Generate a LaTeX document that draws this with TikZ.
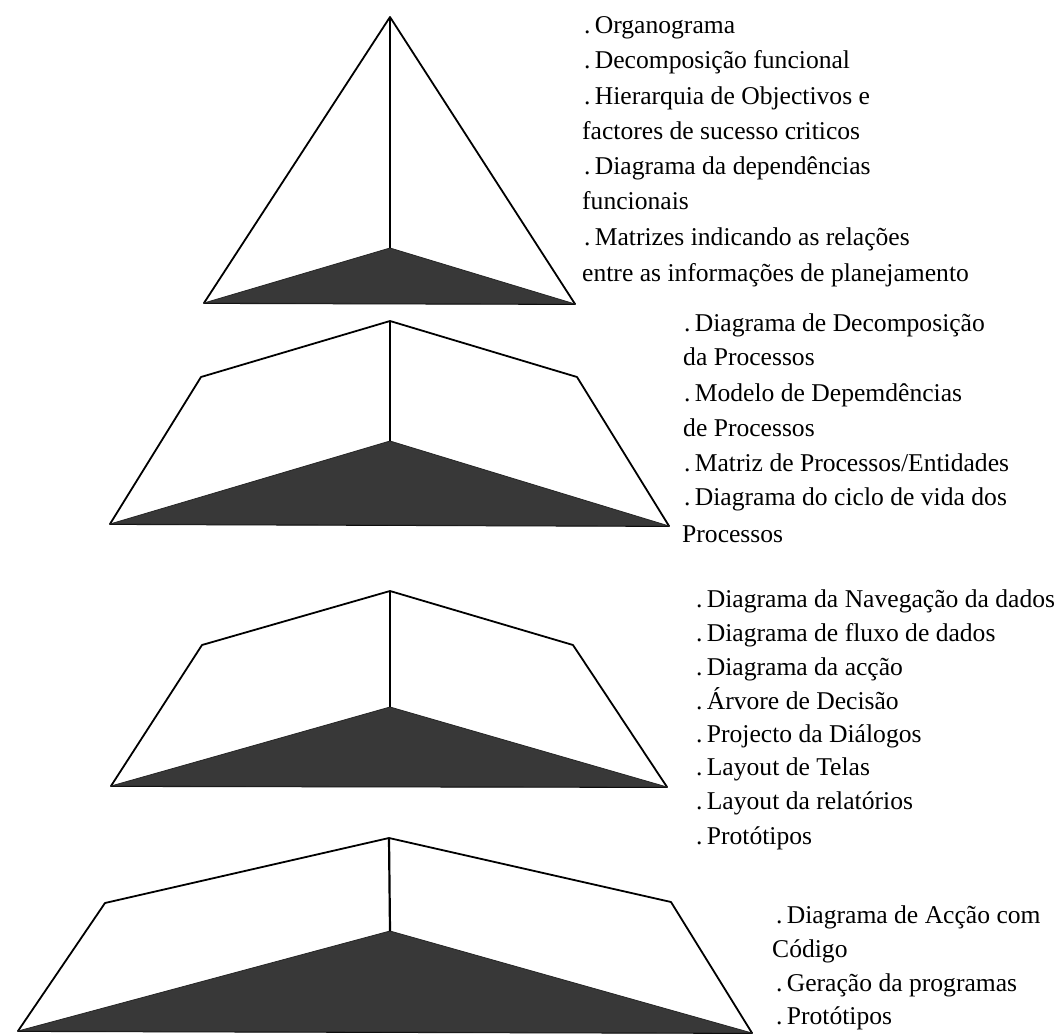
\documentclass[tikz,border=0pt]{standalone}
\usepackage{fontspec}
\setmainfont{Liberation Serif}
\begin{document}
\begin{tikzpicture}[x=1pt,y=-1pt,
  outline/.style={draw=black, line width=1.8pt, line join=round, fill=white},
  ridge/.style={draw=black, line width=2.2pt},
  shade/.style={fill=black!78, draw=black!85, line width=0.8pt, line join=round},
  lbl/.style={anchor=base west, inner sep=0pt, font=\fontsize{25.6}{30}\selectfont}]
\useasboundingbox[fill=white] (0,0) rectangle (1061,1036);

% pyramid 1
\coordinate (a1) at (390,17);
\coordinate (l1) at (204,303);
\coordinate (r1) at (575,304);
\coordinate (p1) at (390,248);
\draw[outline] (a1) -- (l1) -- (r1) -- cycle;
\draw[shade] (l1) -- (p1) -- (r1) -- cycle;
\draw[ridge] (a1) -- (p1);

% pyramid 2
\coordinate (a2) at (390,321);
\coordinate (ls2) at (201,377);
\coordinate (rs2) at (577,377);
\coordinate (l2) at (110,524);
\coordinate (r2) at (669,526);
\coordinate (p2) at (390,441);
\draw[outline] (a2) -- (ls2) -- (l2) -- (r2) -- (rs2) -- cycle;
\draw[shade] (l2) -- (p2) -- (r2) -- cycle;
\draw[ridge] (a2) -- (p2);

% pyramid 3
\coordinate (a3) at (390,591);
\coordinate (ls3) at (202,645);
\coordinate (rs3) at (573,645);
\coordinate (l3) at (111,786);
\coordinate (r3) at (667,787);
\coordinate (p3) at (390,707);
\draw[outline] (a3) -- (ls3) -- (l3) -- (r3) -- (rs3) -- cycle;
\draw[shade] (l3) -- (p3) -- (r3) -- cycle;
\draw[ridge] (a3) -- (p3);

% pyramid 4
\coordinate (a4) at (389,838);
\coordinate (ls4) at (105,903);
\coordinate (rs4) at (671,902);
\coordinate (l4) at (18,1031);
\coordinate (r4) at (752,1033);
\coordinate (p4) at (390,931);
\draw[outline] (a4) -- (ls4) -- (l4) -- (r4) -- (rs4) -- cycle;
\draw[shade] (l4) -- (p4) -- (r4) -- cycle;
\draw[ridge] (a4) -- (p4);

% texts block 1
\node[lbl] (t11) at (584,34)  {.\,Organograma};
\node[lbl] (t12) at (584,68)  {.\,Decomposição funcional};
\node[lbl] (t13) at (584,104) {.\,Hierarquia de Objectivos e};
\node[lbl] (t14) at (582,139) {factores de sucesso criticos};
\node[lbl] (t15) at (584,174) {.\,Diagrama da dependências};
\node[lbl] (t16) at (582,209) {funcionais};
\node[lbl] (t17) at (584,245) {.\,Matrizes indicando as relações};
\node[lbl] (t18) at (582,281) {entre as informações de planejamento};

% texts block 2
\node[lbl] (t21) at (684,331) {.\,Diagrama de Decomposição};
\node[lbl] (t22) at (683,365) {da Processos};
\node[lbl] (t23) at (684,401) {.\,Modelo de Depemdências};
\node[lbl] (t24) at (683,436) {de Processos};
\node[lbl] (t25) at (684,471) {.\,Matriz de Processos/Entidades};
\node[lbl] (t26) at (684,505) {.\,Diagrama do ciclo de vida dos};
\node[lbl] (t27) at (682,542) {Processos};

% texts block 3
\node[lbl] (t31) at (696,607) {.\,Diagrama da Navegação da dados};
\node[lbl] (t32) at (696,641) {.\,Diagrama de fluxo de dados};
\node[lbl] (t33) at (696,675) {.\,Diagrama da acção};
\node[lbl] (t34) at (696,709) {.\,Árvore de Decisão};
\node[lbl] (t35) at (696,742) {.\,Projecto da Diálogos};
\node[lbl] (t36) at (696,775) {.\,Layout de Telas};
\node[lbl] (t37) at (696,809) {.\,Layout da relatórios};
\node[lbl] (t38) at (696,844) {.\,Protótipos};

% texts block 4
\node[lbl] (t41) at (776,923)  {.\,Diagrama de Acção com};
\node[lbl] (t42) at (772,957)  {Código};
\node[lbl] (t43) at (776,991)  {.\,Geração da programas};
\node[lbl] (t44) at (776,1024) {.\,Protótipos};
\end{tikzpicture}
\end{document}
